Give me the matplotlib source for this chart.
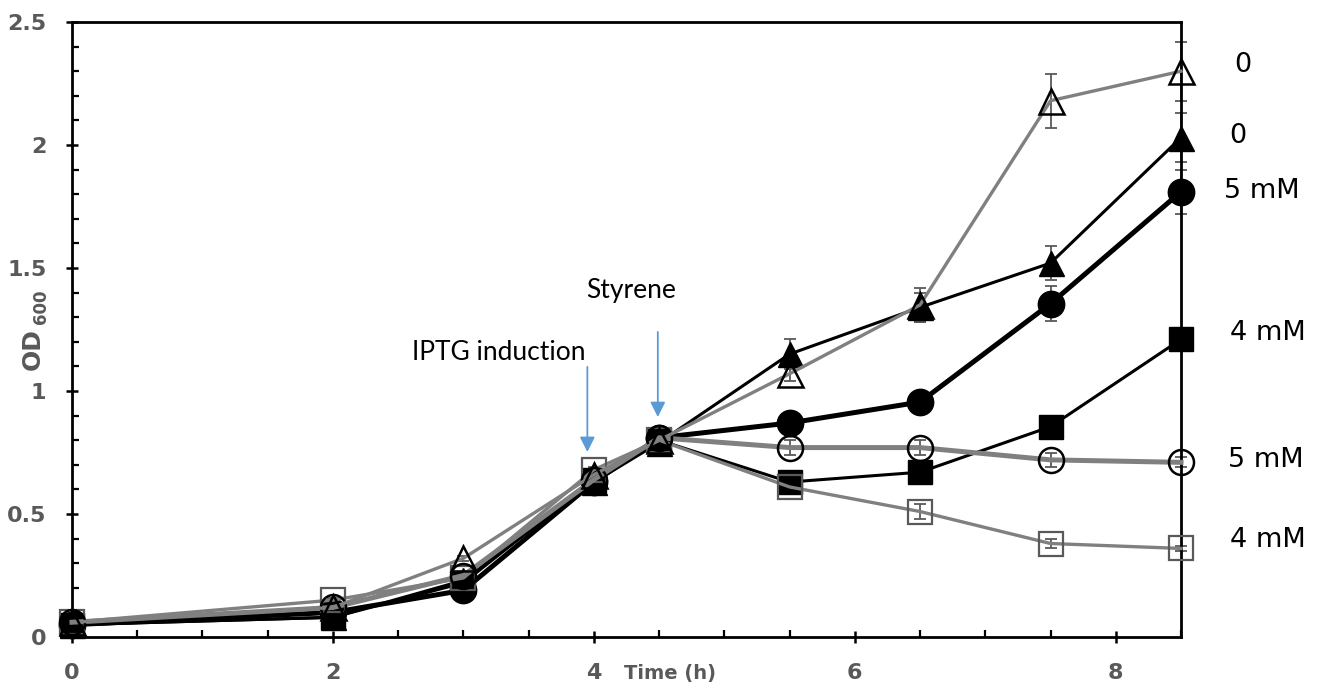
import matplotlib
matplotlib.use("Agg")
import matplotlib.pyplot as plt
from matplotlib.ticker import MultipleLocator, FixedLocator

# ---- data ----
time_h = [0, 2, 3, 4, 4.5, 5.5, 6.5, 7.5, 8.5]

ctrl_open_tri = [0.06, 0.12, 0.32, 0.66, 0.80, 1.07, 1.35, 2.18, 2.30]
ctrl_open_tri_err = [0.01, 0.01, 0.01, 0.01, 0.02, 0.03, 0.07, 0.11, 0.12]

ctrl_fill_tri = [0.05, 0.08, 0.23, 0.63, 0.79, 1.15, 1.34, 1.52, 2.03]
ctrl_fill_tri_err = [0.01, 0.01, 0.01, 0.01, 0.02, 0.06, 0.06, 0.07, 0.10]

fill_circle = [0.05, 0.10, 0.19, 0.63, 0.81, 0.87, 0.955, 1.355, 1.81]
fill_circle_err = [0.01, 0.01, 0.01, 0.01, 0.02, 0.02, 0.02, 0.07, 0.09]

fill_square = [0.05, 0.08, 0.22, 0.64, 0.80, 0.63, 0.67, 0.855, 1.21]
fill_square_err = [0.01, 0.01, 0.01, 0.01, 0.02, 0.02, 0.02, 0.02, 0.02]

open_circle = [0.06, 0.12, 0.25, 0.64, 0.81, 0.77, 0.77, 0.72, 0.71]
open_circle_err = [0.01, 0.01, 0.01, 0.01, 0.02, 0.03, 0.03, 0.03, 0.02]

open_square = [0.06, 0.15, 0.24, 0.68, 0.80, 0.61, 0.51, 0.38, 0.36]
open_square_err = [0.01, 0.01, 0.01, 0.01, 0.02, 0.02, 0.03, 0.02, 0.01]

right_labels = ["0", "0", "5 mM", "4 mM", "5 mM", "4 mM"]
right_label_px = [(1243, 65), (1238, 136), (1262, 191), (1268, 333), (1266, 460), (1268, 540)]

x_ticks = [0, 2, 4, 6, 8]
x_tick_labels = ["0", "2", "4", "6", "8"]
y_ticks = [0, 0.5, 1, 1.5, 2, 2.5]
y_tick_labels = ["0", "0.5", "1", "1.5", "2", "2.5"]

GRAY = "#808080"
DGRAY = "#595959"

plt.rcParams["font.family"] = ["DejaVu Sans"]
plt.rcParams["font.weight"] = "bold"
plt.rcParams["xtick.labelsize"] = 16
plt.rcParams["ytick.labelsize"] = 16
plt.rcParams["xtick.labelcolor"] = DGRAY
plt.rcParams["ytick.labelcolor"] = DGRAY

W, H = 1325, 686
fig = plt.figure(figsize=(W / 100, H / 100), dpi=100)
ax = fig.add_axes([72 / W, 1 - 637 / H, (1181 - 72) / W, (637 - 22) / H])

ERR = dict(fmt="none", ecolor=DGRAY, elinewidth=1.3, capsize=4, capthick=1.3,
           zorder=2.5, clip_on=False)

# black series
ax.plot(time_h, fill_square, color="black", lw=2.2, marker="s", ms=17,
        mfc="black", mec="black", zorder=3, clip_on=False)
ax.plot(time_h, ctrl_fill_tri, color="black", lw=2.2, marker="^", ms=18,
        mfc="black", mec="black", zorder=3, clip_on=False)
ax.plot(time_h, fill_circle, color="black", lw=3.6, marker="o", ms=19,
        mfc="black", mec="black", zorder=3, clip_on=False)
# gray series
ax.plot(time_h, open_square, color=GRAY, lw=2.4, marker="s", ms=17,
        mfc="none", mec=DGRAY, mew=1.6, zorder=4, clip_on=False)
ax.plot(time_h, open_circle, color=GRAY, lw=3.6, marker="o", ms=18,
        mfc="none", mec="black", mew=1.8, zorder=4, clip_on=False)
ax.plot(time_h, ctrl_open_tri, color=GRAY, lw=2.4, marker="^", ms=18,
        mfc="none", mec="black", mew=1.8, zorder=4, clip_on=False)

for vals, errs in [(ctrl_open_tri, ctrl_open_tri_err), (ctrl_fill_tri, ctrl_fill_tri_err),
                   (fill_circle, fill_circle_err), (fill_square, fill_square_err),
                   (open_circle, open_circle_err), (open_square, open_square_err)]:
    ax.errorbar(time_h, vals, yerr=errs, **ERR)

ax.set_xlim(0, 8.5)
ax.set_ylim(0, 2.5)
ax.xaxis.set_major_locator(FixedLocator(x_ticks))
ax.xaxis.set_minor_locator(MultipleLocator(0.5))
ax.yaxis.set_major_locator(FixedLocator(y_ticks))
ax.yaxis.set_minor_locator(MultipleLocator(0.1))
ax.set_xticklabels(x_tick_labels)
ax.set_yticklabels(y_tick_labels)

for s in ax.spines.values():
    s.set_linewidth(2.0)
    s.set_color("black")

ax.tick_params(which="major", direction="inout", length=9, width=1.8)
ax.tick_params(which="minor", direction="in", length=5, width=1.6)
ax.tick_params(axis="x", which="major", pad=14)
ax.tick_params(axis="y", which="major", pad=14)
ax.tick_params(top=False, right=False, which="both")

# axis titles
fig.text(670 / W, 1 - 673 / H, "Time (h)", fontweight="bold",
         fontsize=14, color=DGRAY, ha="center", va="center")
fig.text(33 / W, 1 - 349 / H, "OD", fontweight="bold",
         fontsize=18, color=DGRAY, ha="center", va="center", rotation=90)
fig.text(41 / W, 1 - 307 / H, "600", fontweight="bold",
         fontsize=12, color=DGRAY, ha="center", va="center", rotation=90)

# annotations
BLUE = "#5B9BD5"
ax.annotate("", xy=(3.95, 0.752), xytext=(3.95, 1.098),
            arrowprops=dict(arrowstyle="-|>,head_length=0.9,head_width=0.45",
                            color=BLUE, lw=1.3, shrinkA=0, shrinkB=0))
ax.annotate("", xy=(4.49, 0.894), xytext=(4.49, 1.24),
            arrowprops=dict(arrowstyle="-|>,head_length=0.9,head_width=0.45",
                            color=BLUE, lw=1.3, shrinkA=0, shrinkB=0))
fig.text(499 / W, 1 - 352 / H, "IPTG induction", family="Lato", fontweight="normal",
         fontsize=19, color="black", ha="center", va="center")
fig.text(631 / W, 1 - 290 / H, "Styrene", family="Lato", fontweight="normal",
         fontsize=19, color="black", ha="center", va="center")

for lab, (px, py) in zip(right_labels, right_label_px):
    fig.text(px / W, 1 - py / H, lab, family="DejaVu Sans", fontweight="normal",
             fontsize=19.5, color="black", ha="center", va="center")

fig.savefig("out.png", dpi=100)
